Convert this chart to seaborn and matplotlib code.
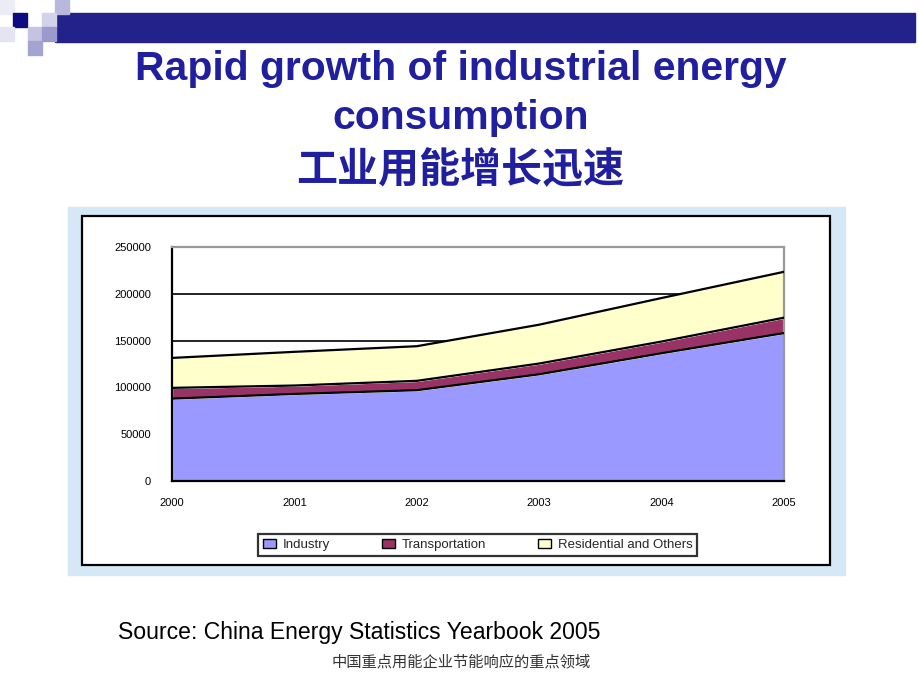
"""Stacked area chart: energy consumption by sector, China 2000-2005."""
import numpy as np
import pandas as pd
import seaborn as sns
import matplotlib.pyplot as plt
from matplotlib.patches import Rectangle

# values
years = [2000, 2001, 2002, 2003, 2004, 2005]
industry = [88000, 93000, 97000, 114000, 136500, 158000]
transportation = [11500, 9000, 10000, 11500, 12500, 16500]
residential = [32000, 36000, 37000, 41500, 46500, 49000]
sectors = ['Industry', 'Transportation', 'Residential and Others']
colors = ['#9999ff', '#993366', '#ffffcc']
y_ticks = [0, 50000, 100000, 150000, 200000, 250000]

df = pd.DataFrame({'year': years, 'Industry': industry,
                   'Transportation': transportation,
                   'Residential and Others': residential})

sns.set_theme(style='white')
plt.rcParams['font.family'] = ['Liberation Sans', 'Noto Sans CJK SC', 'DejaVu Sans']

W, H = 920, 690
fig = plt.figure(figsize=(9.2, 6.9), dpi=100)


def px_rect(x0, y0, x1, y1, **kw):
    """Rectangle given in pixel coords (top-left origin)."""
    r = Rectangle((x0 / W, 1 - y1 / H), (x1 - x0) / W, (y1 - y0) / H,
                  transform=fig.transFigure, **kw)
    fig.add_artist(r)
    return r


# slide decoration, top left
px_rect(55, 13, 915, 42, color='#22228a', zorder=-2)
for (x0, y0, c) in [(0, 0, '#ececf6'), (55, 0, '#b8b8dc'), (42, 13, '#d2d2ea'),
                    (13, 13, '#0c0c80'), (28, 27, '#c4c4e2'), (42, 27, '#9a9acc'),
                    (28, 41, '#a4a4d2'), (0, 27, '#e4e4f2')]:
    px_rect(x0, y0, x0 + 14, y0 + 14, color=c, zorder=-1)

# chart panel
px_rect(68, 207, 845, 575, color='#d4e9f5', zorder=-2)
px_rect(82, 216, 830, 565, facecolor='white', edgecolor='black', lw=1.6, zorder=-1)

# titles
title_color = '#1f1f9f'
fig.text(461 / W, 1 - 69 / H, 'Rapid growth of industrial energy', ha='center', va='center',
         fontsize=29.4, fontweight='bold', color=title_color)
fig.text(461 / W, 1 - 118 / H, 'consumption', ha='center', va='center',
         fontsize=29.4, fontweight='bold', color=title_color)
fig.text(460 / W, 1 - 170 / H, '工业用能增长迅速', ha='center', va='center',
         fontsize=29.5, fontweight='bold', color=title_color,
         family=['Noto Sans CJK SC', 'DejaVu Sans'])

# the chart
ax = fig.add_axes([172 / W, 1 - 481 / H, 612 / W, 234 / H])
ax.set_zorder(5)
ax.stackplot(df['year'], df['Industry'], df['Transportation'],
             df['Residential and Others'], colors=colors, labels=sectors, zorder=2)
cum = df[sectors].cumsum(axis=1)
for s in sectors:
    sns.lineplot(x=df['year'], y=cum[s], color='black', lw=1.6, ax=ax, zorder=3,
                 legend=False)
handles, labels = ax.get_legend_handles_labels()
if ax.get_legend() is not None:
    ax.get_legend().remove()

ax.set_xlim(2000, 2005)
ax.set_ylim(0, 250000)
ax.set_xticks(years)
ax.set_yticks(y_ticks)
ax.set_xticklabels([str(y) for y in years])
ax.set_yticklabels([str(v) for v in y_ticks])
ax.set_xlabel('')
ax.set_ylabel('')
ax.tick_params(axis='both', labelsize=8, colors='black', length=3, width=1.2)
ax.tick_params(axis='y', pad=12)
ax.tick_params(axis='x', pad=12, direction='in')
ax.yaxis.grid(True, color='black', lw=1.2)
ax.set_axisbelow(True)
for side in ['left', 'bottom']:
    ax.spines[side].set_color('black')
    ax.spines[side].set_linewidth(1.6)
for side in ['top', 'right']:
    ax.spines[side].set_color('#999999')
    ax.spines[side].set_linewidth(1.6)

leg = fig.legend(handles[:3], labels[:3], loc='center',
                 bbox_to_anchor=(258 / W, 1 - 558 / H, 439 / W, 26 / H), mode='expand',
                 ncol=3, fontsize=9.5, frameon=True, fancybox=False, edgecolor='black',
                 handlelength=1.0, handleheight=0.7, handletextpad=0.5, columnspacing=1.5,
                 borderpad=0.35, borderaxespad=0)
leg.get_frame().set_linewidth(1.6)
for h in leg.legend_handles:
    h.set_edgecolor('black')
    h.set_linewidth(1.0)

# source and footer
fig.text(118 / W, 1 - 632 / H, 'Source: China Energy Statistics Yearbook 2005',
         ha='left', va='center', fontsize=16.6, color='black')
fig.text(461 / W, 1 - 662 / H, '中国重点用能企业节能响应的重点领域', ha='center', va='center',
         fontsize=11, color='#333333', family=['Noto Sans CJK SC', 'DejaVu Sans'])

fig.savefig('out.png', dpi=100)
